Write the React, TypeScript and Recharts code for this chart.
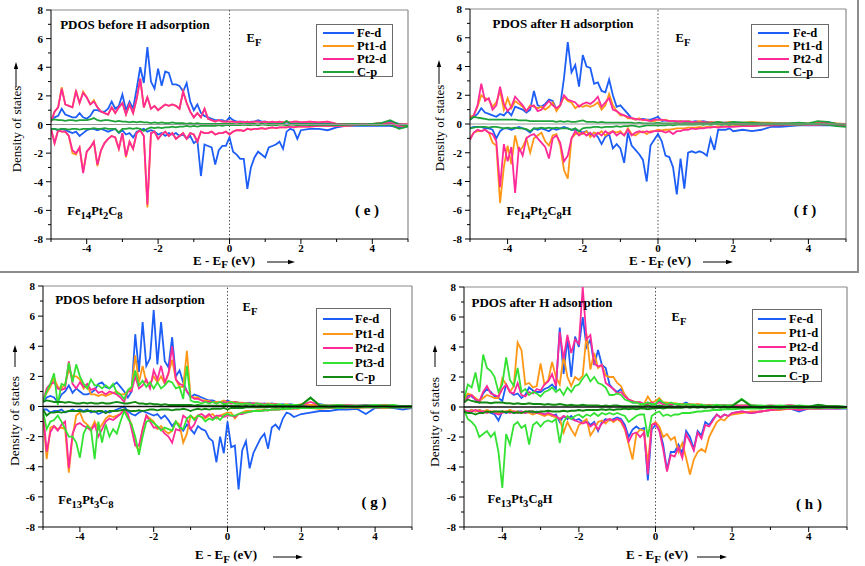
import React from 'react';
import { LineChart, Line, XAxis, YAxis, ReferenceLine } from 'recharts';

// Energy grid (eV): -5.0..2.0 step 0.1, then 2.25..5.0 step 0.25
const X = [
  -5.0, -4.9, -4.8, -4.7, -4.6, -4.5, -4.4, -4.3, -4.2, -4.1,
  -4.0, -3.9, -3.8, -3.7, -3.6, -3.5, -3.4, -3.3, -3.2, -3.1,
  -3.0, -2.9, -2.8, -2.7, -2.6, -2.5, -2.4, -2.3, -2.2, -2.1,
  -2.0, -1.9, -1.8, -1.7, -1.6, -1.5, -1.4, -1.3, -1.2, -1.1,
  -1.0, -0.9, -0.8, -0.7, -0.6, -0.5, -0.4, -0.3, -0.2, -0.1,
  0.0, 0.1, 0.2, 0.3, 0.4, 0.5, 0.6, 0.7, 0.8, 0.9,
  1.0, 1.1, 1.2, 1.3, 1.4, 1.5, 1.6, 1.7, 1.8, 1.9,
  2.0, 2.25, 2.5, 2.75, 3.0, 3.25, 3.5, 3.75, 4.0, 4.25, 4.5, 4.75, 5.0,
];

const X_TICKS = [-5, -4, -3, -2, -1, 0, 1, 2, 3, 4, 5];
const Y_TICKS = [-8, -7, -6, -5, -4, -3, -2, -1, 0, 1, 2, 3, 4, 5, 6, 7, 8];

// ---------- Panel (e) Fe14Pt2C8 ----------
const E_FE_UP = [
  0.3, 0.5, 0.6, 1.1, 0.7, 0.6, 0.5, 0.5, 0.8, 0.5,
  0.4, 0.6, 1.0, 1.0, 0.9, 0.9, 1.1, 1.6, 1.1, 1.3,
  2.1, 1.0, 1.6, 1.1, 2.5, 4.0, 2.9, 5.4, 3.0, 2.5,
  3.9, 2.7, 3.7, 3.6, 2.8, 2.8, 2.7, 2.3, 2.9, 1.6,
  1.0, 1.4, 0.8, 0.6, 0.5, 0.4, 0.3, 0.3, 0.3, 0.2,
  0.5, 0.3, 0.2, 0.2, 0.2, 0.1, 0.2, 0.2, 0.3, 0.2,
  0.2, 0.1, 0.1, 0.15, 0.1, 0.1, 0.15, 0.1, 0.1, 0.1,
  0.1, 0.1, 0.05, 0.05, 0.0, 0.0, 0.05, 0.0, 0.0, 0.1, 0.2, 0.05, 0.0,
];
const E_FE_DN = [
  -0.3, -0.3, -0.4, -0.3, -0.4, -0.5, -0.6, -0.5, -0.8, -0.6,
  -0.4, -0.3, -0.3, -0.4, -0.3, -0.4, -0.5, -0.4, -0.3, -0.6,
  -0.4, -0.7, -0.6, -0.9, -0.5, -0.4, -0.3, -0.5, -0.4, -0.5,
  -0.7, -0.6, -0.8, -0.6, -0.7, -0.6, -0.8, -0.7, -1.0, -0.8,
  -1.3, -1.1, -3.6, -1.4, -1.5, -1.6, -2.8, -1.8, -1.5, -1.5,
  -0.9, -1.9, -2.1, -2.4, -2.4, -4.5, -3.0, -2.3, -1.9, -2.1,
  -2.3, -1.6, -1.5, -1.4, -1.2, -1.7, -0.5, -0.3, -0.4, -1.0,
  -0.4, -0.3, -0.3, -0.4, -0.2, -0.1, -0.1, -0.1, -0.1, -0.1, -0.1, -0.2, -0.1,
];
const E_PT1_UP = [
  0.2, 0.9, 1.2, 2.6, 1.4, 1.3, 1.2, 2.4, 1.5, 2.3,
  1.9, 1.4, 1.7, 1.2, 0.9, 0.8, 0.7, 1.2, 0.8, 1.2,
  1.5, 0.7, 1.4, 0.8, 1.8, 3.2, 1.2, 1.9, 1.1, 1.3,
  1.0, 1.2, 1.4, 1.3, 1.4, 1.3, 1.1, 2.3, 1.5, 0.9,
  0.5, 0.8, 0.5, 1.1, 0.4, 0.3, 0.2, 0.3, 0.2, 0.2,
  0.2, 0.2, 0.15, 0.2, 0.15, 0.2, 0.15, 0.2, 0.2, 0.15,
  0.2, 0.15, 0.2, 0.15, 0.2, 0.15, 0.2, 0.15, 0.2, 0.2,
  0.15, 0.2, 0.15, 0.2, 0.05, 0.05, 0.05, 0.05, 0.05, 0.1, 0.1, 0.0, 0.0,
];
const E_PT1_DN = [
  -0.3, -1.3, -0.4, -0.5, -0.5, -0.8, -2.0, -2.1, -1.6, -3.3,
  -1.9, -1.6, -1.2, -2.9, -1.8, -1.3, -1.0, -0.8, -0.9, -1.7,
  -0.6, -2.3, -1.2, -1.7, -0.6, -0.4, -0.8, -5.8, -0.6, -0.5,
  -1.0, -0.7, -0.5, -0.8, -0.6, -1.0, -0.8, -0.6, -1.0, -0.6,
  -0.7, -1.2, -0.5, -0.6, -0.6, -0.5, -0.7, -0.6, -0.6, -0.5,
  -0.7, -0.5, -0.4, -0.4, -0.45, -0.3, -0.35, -0.3, -0.3, -0.25,
  -0.3, -0.25, -0.2, -0.25, -0.2, -0.2, -0.2, -0.15, -0.2, -0.15,
  -0.15, -0.15, -0.1, -0.1, -0.1, -0.1, -0.05, -0.05, -0.05, 0.0, 0.05, -0.1, -0.1,
];
const E_PT2_UP = [
  0.2, 0.9, 1.2, 2.5, 1.4, 1.3, 1.2, 2.3, 1.5, 2.2,
  1.9, 1.4, 1.6, 1.2, 0.9, 0.8, 0.7, 1.2, 0.8, 1.2,
  1.5, 0.7, 1.4, 0.8, 1.8, 3.2, 1.2, 1.9, 1.1, 1.3,
  1.0, 1.2, 1.4, 1.3, 1.4, 1.3, 1.1, 2.3, 1.5, 0.9,
  0.5, 0.8, 0.5, 1.1, 0.4, 0.3, 0.2, 0.3, 0.2, 0.2,
  0.2, 0.2, 0.15, 0.2, 0.15, 0.2, 0.15, 0.2, 0.2, 0.15,
  0.2, 0.15, 0.2, 0.15, 0.2, 0.15, 0.2, 0.15, 0.2, 0.2,
  0.15, 0.2, 0.15, 0.2, 0.05, 0.05, 0.05, 0.05, 0.05, 0.1, 0.1, 0.0, 0.0,
];
const E_PT2_DN = [
  -0.3, -1.3, -0.4, -0.5, -0.5, -0.8, -1.8, -2.0, -1.6, -3.4,
  -1.9, -1.6, -1.2, -2.8, -1.8, -1.3, -1.0, -0.8, -0.9, -1.7,
  -0.6, -2.2, -1.2, -1.7, -0.6, -0.4, -0.8, -5.6, -0.6, -0.5,
  -1.0, -0.7, -0.5, -0.8, -0.6, -1.0, -0.8, -0.6, -1.0, -0.6,
  -0.7, -1.2, -0.5, -0.6, -0.6, -0.5, -0.7, -0.6, -0.6, -0.5,
  -0.7, -0.5, -0.4, -0.4, -0.45, -0.3, -0.35, -0.3, -0.3, -0.25,
  -0.3, -0.25, -0.2, -0.25, -0.2, -0.2, -0.2, -0.15, -0.2, -0.15,
  -0.15, -0.15, -0.1, -0.1, -0.1, -0.1, -0.05, -0.05, -0.05, 0.0, 0.05, -0.1, -0.1,
];
const E_C_UP = [
  0.3, 0.35, 0.3, 0.3, 0.25, 0.3, 0.3, 0.25, 0.3, 0.3,
  0.3, 0.35, 0.45, 0.3, 0.25, 0.3, 0.3, 0.25, 0.2, 0.25,
  0.2, 0.2, 0.15, 0.2, 0.15, 0.2, 0.15, 0.15, 0.1, 0.15,
  0.1, 0.15, 0.1, 0.1, 0.15, 0.1, 0.1, 0.1, 0.05, 0.1,
  0.05, 0.1, 0.05, 0.05, 0.05, 0.05, 0.05, 0.05, 0.05, 0.05,
  0.05, 0.05, 0.0, 0.05, 0.0, 0.05, 0.05, 0.05, 0.0, 0.05,
  0.0, 0.05, 0.0, 0.05, 0.05, 0.05, 0.25, 0.05, 0.0, 0.05,
  0.0, 0.05, 0.0, 0.0, 0.0, 0.0, 0.05, 0.0, 0.05, 0.1, 0.3, 0.0, -0.1,
];
const E_C_DN = [
  -0.3, -0.3, -0.35, -0.3, -0.3, -0.35, -0.3, -0.3, -0.35, -0.3,
  -0.3, -0.3, -0.25, -0.3, -0.3, -0.25, -0.3, -0.3, -0.3, -0.55,
  -0.3, -0.3, -0.25, -0.3, -0.25, -0.3, -0.45, -0.3, -0.2, -0.25,
  -0.2, -0.25, -0.2, -0.2, -0.15, -0.2, -0.15, -0.15, -0.1, -0.15,
  -0.1, -0.15, -0.1, -0.1, -0.1, -0.1, -0.1, -0.05, -0.1, -0.05,
  -0.05, -0.05, -0.05, -0.05, 0.0, -0.05, -0.05, 0.0, -0.05, 0.0,
  0.0, -0.05, 0.0, -0.05, 0.0, 0.0, -0.05, 0.0, 0.0, -0.05,
  0.0, -0.05, 0.0, 0.0, -0.05, 0.0, 0.0, -0.05, 0.0, -0.05, 0.0, -0.3, -0.15,
];

// ---------- Panel (f) Fe14Pt2C8H ----------
const F_FE_UP = [
  0.3, 0.5, 0.7, 1.1, 0.8, 0.7, 0.6, 0.5, 0.7, 0.6,
  0.9, 0.6, 1.2, 1.1, 1.0, 0.8, 1.0, 2.3, 1.3, 1.2,
  1.4, 1.7, 1.6, 1.0, 1.3, 3.2, 5.7, 3.6, 4.1, 2.6,
  4.8, 4.0, 3.9, 2.8, 2.9, 2.3, 2.2, 3.1, 2.0, 1.2,
  1.3, 1.0, 0.7, 0.4, 0.3, 0.35, 0.35, 0.3, 0.3, 0.4,
  0.5, 0.2, 0.25, 0.2, 0.2, 0.15, 0.2, 0.15, 0.2, 0.15,
  0.2, 0.15, 0.2, 0.15, 0.1, 0.1, 0.1, 0.1, 0.1, 0.1,
  0.1, 0.1, 0.05, 0.05, 0.0, 0.0, 0.05, 0.05, 0.0, 0.1, 0.15, 0.0, -0.05,
];
const F_FE_DN = [
  -0.3, -0.2, -0.2, -0.2, -0.3, -0.3, -0.4, -1.0, -0.5, -0.3,
  -0.3, -0.4, -0.3, -0.2, -0.3, -0.4, -0.6, -0.3, -0.4, -0.3,
  -0.4, -0.5, -0.3, -0.4, -0.3, -0.2, -0.3, -0.4, -0.4, -0.5,
  -0.6, -0.5, -0.8, -0.6, -0.9, -1.4, -0.9, -0.7, -1.7, -1.4,
  -1.7, -2.7, -0.6, -1.5, -1.8, -2.1, -2.5, -4.0, -1.5, -1.1,
  -0.7, -1.2, -2.2, -2.3, -3.0, -4.9, -2.4, -4.5, -2.0, -1.9,
  -2.0, -1.9, -2.0, -2.2, -1.0, -1.8, -0.4, -0.4, -0.4, -0.3,
  -0.5, -0.4, -0.5, -0.4, -0.2, -0.2, -0.15, -0.1, -0.1, -0.1, -0.1, -0.1, -0.1,
];
const F_PT1_UP = [
  0.5, 0.6, 1.2, 2.0, 1.8, 1.7, 1.2, 1.5, 2.3, 1.0,
  1.8, 1.1, 1.6, 1.4, 1.2, 0.9, 1.3, 1.2, 1.1, 1.2,
  1.0, 1.2, 1.5, 0.9, 1.3, 1.9, 1.6, 1.5, 1.1, 1.3,
  1.2, 1.3, 1.2, 1.3, 1.5, 1.0, 1.3, 2.1, 1.3, 0.9,
  0.6, 0.6, 0.4, 0.4, 0.3, 0.4, 0.25, 0.3, 0.2, 0.2,
  0.3, 0.25, 0.3, 0.2, 0.2, 0.15, 0.2, 0.15, 0.2, 0.15,
  0.15, 0.2, 0.15, 0.1, 0.15, 0.1, 0.15, 0.1, 0.1, 0.15,
  0.1, 0.1, 0.15, 0.1, 0.1, 0.05, 0.05, 0.05, 0.05, 0.1, 0.1, 0.05, 0.0,
];
const F_PT1_DN = [
  -1.0, -0.6, -0.5, -0.5, -0.4, -0.6, -1.3, -1.5, -5.5, -3.0,
  -1.5, -2.8, -0.8, -1.9, -1.6, -1.0, -2.0, -1.0, -0.8, -0.6,
  -1.2, -1.5, -0.8, -0.7, -1.5, -3.2, -3.8, -1.0, -0.7, -0.6,
  -0.7, -0.5, -0.9, -0.6, -0.7, -0.5, -0.8, -0.6, -0.5, -0.6,
  -0.5, -0.8, -0.3, -0.7, -0.8, -0.6, -0.5, -0.7, -0.5, -0.5,
  -0.4, -0.45, -0.4, -0.4, -0.35, -0.3, -0.3, -0.3, -0.25, -0.25,
  -0.25, -0.2, -0.25, -0.2, -0.2, -0.2, -0.15, -0.2, -0.15, -0.15,
  -0.15, -0.1, -0.15, -0.1, -0.1, -0.05, -0.05, -0.05, -0.05, -0.05, 0.0, -0.1, -0.1,
];
const F_PT2_UP = [
  0.3, 0.6, 1.3, 2.8, 1.6, 1.8, 1.0, 1.3, 2.6, 1.4,
  0.9, 1.2, 1.9, 1.6, 1.3, 0.9, 1.2, 1.3, 0.9, 1.0,
  1.3, 1.6, 1.3, 1.1, 1.3, 2.0, 1.7, 1.6, 1.5, 1.2,
  1.4, 1.5, 1.4, 1.6, 1.9, 1.2, 1.5, 1.8, 1.0, 0.9,
  0.7, 0.6, 0.5, 0.4, 0.35, 0.3, 0.3, 0.25, 0.2, 0.3,
  0.3, 0.3, 0.25, 0.2, 0.2, 0.2, 0.15, 0.2, 0.15, 0.15,
  0.15, 0.1, 0.15, 0.1, 0.1, 0.1, 0.1, 0.05, 0.1, 0.05,
  0.05, 0.05, 0.05, 0.05, 0.0, 0.05, 0.0, 0.05, 0.0, 0.05, 0.1, 0.0, 0.0,
];
const F_PT2_DN = [
  -1.1, -0.6, -0.4, -0.5, -0.4, -0.6, -0.7, -1.2, -4.4, -1.4,
  -2.6, -1.6, -4.8, -1.6, -2.2, -1.0, -0.8, -0.7, -1.0, -1.3,
  -1.6, -2.4, -1.0, -0.8, -1.3, -2.6, -2.2, -1.0, -0.5, -0.8,
  -0.6, -0.8, -0.6, -0.9, -0.6, -0.8, -0.5, -0.7, -0.5, -0.8,
  -0.6, -0.8, -0.4, -0.8, -0.6, -0.5, -0.6, -0.5, -0.6, -0.5,
  -0.5, -0.5, -0.6, -0.5, -0.7, -0.5, -0.5, -0.4, -0.4, -0.3,
  -0.35, -0.3, -0.3, -0.25, -0.25, -0.2, -0.25, -0.2, -0.2, -0.2,
  -0.2, -0.15, -0.15, -0.1, -0.1, -0.1, -0.05, -0.05, -0.05, -0.05, 0.0, -0.1, -0.15,
];
const F_C_UP = [
  0.3, 0.5, 0.45, 0.4, 0.35, 0.3, 0.3, 0.3, 0.3, 0.3,
  0.3, 0.3, 0.3, 0.25, 0.25, 0.25, 0.2, 0.2, 0.2, 0.2,
  0.2, 0.2, 0.2, 0.15, 0.2, 0.15, 0.2, 0.15, 0.15, 0.2,
  0.25, 0.15, 0.15, 0.15, 0.1, 0.15, 0.1, 0.1, 0.1, 0.1,
  0.1, 0.1, 0.1, 0.1, 0.05, 0.1, 0.05, 0.05, 0.05, 0.05,
  0.1, 0.05, 0.05, 0.05, 0.05, 0.05, 0.0, 0.05, 0.05, 0.0,
  0.05, 0.05, 0.05, 0.05, 0.05, 0.1, 0.15, 0.1, 0.05, 0.1,
  0.15, 0.1, 0.1, 0.05, 0.05, 0.05, 0.05, 0.1, 0.05, 0.2, 0.15, 0.0, -0.05,
];
const F_C_DN = [
  -0.3, -0.25, -0.2, -0.2, -0.2, -0.25, -0.2, -0.2, -0.25, -0.3,
  -0.25, -0.3, -0.25, -0.3, -0.3, -0.35, -0.5, -0.3, -0.3, -0.25,
  -0.3, -0.25, -0.3, -0.25, -0.3, -0.3, -0.3, -0.4, -0.3, -0.5,
  -0.3, -0.25, -0.25, -0.2, -0.2, -0.25, -0.2, -0.2, -0.2, -0.15,
  -0.2, -0.15, -0.15, -0.1, -0.15, -0.2, -0.15, -0.1, -0.1, -0.1,
  -0.1, -0.1, -0.1, -0.05, -0.1, -0.05, -0.05, -0.05, -0.05, -0.05,
  -0.05, 0.0, -0.05, 0.0, -0.05, 0.0, 0.0, -0.05, 0.0, -0.05,
  0.0, -0.05, 0.0, -0.05, 0.0, -0.05, 0.0, -0.05, 0.0, 0.0, -0.05, -0.15, -0.2,
];

// ---------- Panel (g) Fe13Pt3C8 ----------
const G_FE_UP = [
  0.3, 0.6, 0.7, 0.6, 0.3, 0.8, 1.0, 1.4, 0.9, 1.2,
  1.0, 0.8, 0.8, 0.9, 1.1, 1.5, 1.6, 1.3, 1.2, 1.4,
  1.6, 1.3, 1.0, 0.6, 1.0, 4.8, 2.3, 5.6, 2.7, 3.2,
  6.4, 2.8, 5.6, 3.0, 2.6, 4.6, 2.0, 2.4, 1.6, 1.0,
  0.6, 0.8, 0.7, 0.6, 0.5, 0.4, 0.4, 0.3, 0.3, 0.3,
  0.4, 0.3, 0.3, 0.25, 0.2, 0.2, 0.25, 0.2, 0.2, 0.15,
  0.2, 0.15, 0.2, 0.15, 0.1, 0.15, 0.1, 0.15, 0.1, 0.1,
  0.1, 0.1, 0.15, 0.05, 0.1, 0.05, 0.05, 0.1, 0.05, 0.1, 0.05, 0.0, -0.05,
];
const G_FE_DN = [
  -0.2, -0.2, -0.4, -0.3, -0.3, -0.2, -0.4, -0.3, -0.2, -0.3,
  -0.2, -0.3, -0.2, -0.4, -0.3, -0.5, -0.4, -0.3, -0.4, -0.3,
  -0.2, -0.1, 0.0, -0.3, -0.5, -0.6, -0.4, -0.3, -0.4, -0.5,
  -0.6, -0.5, -0.8, -0.6, -0.9, -1.3, -1.0, -1.3, -1.6, -1.2,
  -1.5, -1.8, -1.3, -1.5, -1.6, -2.1, -2.3, -3.7, -2.0, -3.1,
  -1.0, -2.7, -2.6, -5.5, -2.9, -2.3, -4.1, -3.1, -2.6, -2.1,
  -1.8, -2.8, -1.4, -1.2, -1.5, -0.8, -0.4, -0.5, -0.7, -0.6,
  -0.5, -0.4, -0.3, -0.3, -0.2, -0.2, -0.15, -0.5, -0.1, -0.1, -0.1, -0.2, -0.1,
];
const G_PT1_UP = [
  0.4, 0.9, 1.3, 1.9, 1.3, 1.2, 1.5, 2.4, 2.0, 2.0,
  1.8, 1.2, 1.4, 0.8, 0.8, 0.7, 0.8, 0.7, 0.8, 0.9,
  1.0, 0.8, 0.8, 1.0, 1.2, 3.4, 1.6, 2.7, 1.6, 1.5,
  2.0, 1.6, 2.0, 1.5, 2.2, 3.1, 1.8, 1.3, 1.3, 3.7,
  0.6, 0.6, 0.6, 0.4, 0.4, 0.35, 0.3, 0.3, 0.3, 0.4,
  0.3, 0.3, 0.3, 0.25, 0.25, 0.2, 0.2, 0.2, 0.2, 0.15,
  0.15, 0.2, 0.15, 0.15, 0.1, 0.1, 0.15, 0.1, 0.1, 0.1,
  0.15, 0.1, 0.1, 0.05, 0.1, 0.05, 0.05, 0.05, 0.05, 0.1, 0.05, 0.0, 0.0,
];
const G_PT1_DN = [
  -0.5, -3.5, -1.4, -1.3, -1.5, -1.4, -1.5, -4.4, -2.0, -0.6,
  -0.4, -1.0, -1.2, -1.5, -1.0, -1.5, -1.2, -0.8, -0.6, -0.7,
  -0.6, -0.5, -0.2, -0.6, -1.2, -2.5, -3.0, -1.5, -0.6, -0.8,
  -1.0, -1.5, -1.3, -1.6, -1.8, -1.6, -1.0, -1.2, -2.4, -1.8,
  -0.6, -0.8, -0.6, -0.7, -0.8, -0.6, -0.5, -0.8, -0.6, -0.5,
  -0.4, -0.4, -0.8, -0.5, -0.4, -0.3, -0.3, -0.3, -0.25, -0.25,
  -0.2, -0.25, -0.2, -0.2, -0.15, -0.2, -0.15, -0.15, -0.1, -0.15,
  -0.1, -0.1, -0.15, -0.1, -0.1, -0.05, -0.1, -0.05, -0.05, -0.1, -0.05, -0.05, -0.05,
];
const G_PT2_UP = [
  0.3, 1.2, 1.5, 1.6, 1.2, 1.1, 1.2, 3.0, 1.5, 1.2,
  1.6, 1.3, 1.5, 1.1, 1.2, 0.9, 1.0, 0.8, 1.0, 0.9,
  0.8, 0.6, 0.3, 1.0, 1.0, 2.0, 1.2, 1.4, 1.8, 1.2,
  2.4, 1.8, 2.7, 1.6, 2.2, 4.0, 1.8, 1.5, 1.4, 1.0,
  0.7, 0.5, 0.5, 0.4, 0.3, 0.3, 0.3, 0.2, 0.3, 0.2,
  0.3, 0.2, 0.3, 0.2, 0.2, 0.2, 0.15, 0.2, 0.15, 0.2,
  0.15, 0.15, 0.1, 0.15, 0.1, 0.1, 0.1, 0.1, 0.1, 0.1,
  0.1, 0.3, 0.1, 0.05, 0.05, 0.1, 0.05, 0.05, 0.05, 0.05, 0.05, 0.0, 0.0,
];
const G_PT2_DN = [
  -0.4, -3.0, -1.7, -1.3, -1.6, -1.2, -1.0, -4.1, -1.8, -1.2,
  -1.1, -1.3, -1.4, -1.6, -1.2, -2.0, -1.5, -1.0, -0.8, -0.9,
  -0.7, -0.5, -0.2, -0.5, -1.5, -2.6, -2.6, -1.5, -0.6, -1.0,
  -1.4, -1.4, -1.5, -1.8, -2.0, -2.4, -1.5, -1.6, -0.6, -0.8,
  -1.5, -1.2, -0.6, -0.5, -0.7, -0.5, -0.8, -0.6, -0.6, -0.7,
  -0.6, -0.6, -0.7, -0.5, -0.5, -0.4, -0.35, -0.3, -0.3, -0.3,
  -0.25, -0.25, -0.2, -0.2, -0.2, -0.15, -0.15, -0.1, -0.15, -0.1,
  -0.1, -0.1, -0.1, -0.05, -0.1, -0.05, -0.05, -0.05, -0.05, -0.05, 0.0, -0.05, -0.05,
];
const G_PT3_UP = [
  0.3, 1.0, 1.5, 2.2, 0.1, 1.5, 1.4, 2.9, 1.6, 2.8,
  2.0, 1.5, 1.2, 1.8, 1.4, 1.4, 1.2, 1.4, 1.2, 1.5,
  0.9, 0.8, 0.5, 1.1, 1.3, 2.4, 1.4, 1.7, 1.3, 1.6,
  1.2, 1.6, 1.2, 1.4, 1.7, 1.6, 1.2, 1.3, 0.5, 2.7,
  0.4, 0.3, 0.3, 0.2, 0.3, 0.2, 0.3, 0.2, 0.3, 0.15,
  0.2, 0.3, 0.2, 0.2, 0.15, 0.2, 0.15, 0.1, 0.2, 0.15,
  0.1, 0.15, 0.1, 0.1, 0.15, 0.1, 0.1, 0.1, 0.1, 0.1,
  0.1, 0.55, 0.1, 0.05, 0.1, 0.05, 0.05, 0.05, 0.1, 0.05, 0.1, 0.0, 0.0,
];
const G_PT3_DN = [
  -0.3, -1.5, -1.0, -0.9, -0.6, -1.0, -1.5, -2.0, -2.0, -2.4,
  -3.4, -1.8, -1.3, -1.5, -3.5, -1.0, -2.4, -1.2, -2.0, -1.5,
  -1.8, -1.0, -0.3, -0.8, -1.2, -2.0, -3.2, -2.0, -1.0, -0.9,
  -1.1, -1.3, -1.6, -1.4, -1.5, -1.6, -1.0, -1.4, -1.5, -0.8,
  -0.6, -0.9, -0.6, -0.7, -1.0, -0.8, -0.9, -0.7, -0.9, -0.6,
  -0.5, -0.6, -0.6, -0.5, -0.4, -0.4, -0.35, -0.3, -0.3, -0.3,
  -0.25, -0.25, -0.2, -0.2, -0.2, -0.15, -0.15, -0.15, -0.1, -0.1,
  -0.1, -0.1, -0.1, -0.05, -0.1, -0.05, -0.05, -0.05, -0.05, -0.05, -0.05, -0.05, -0.05,
];
const G_C_UP = [
  0.3, 0.4, 0.35, 0.3, 0.3, 0.3, 0.25, 0.3, 0.25, 0.2,
  0.2, 0.25, 0.2, 0.25, 0.2, 0.2, 0.25, 0.2, 0.2, 0.25,
  0.3, 0.25, 0.2, 0.2, 0.25, 0.3, 0.2, 0.2, 0.15, 0.2,
  0.15, 0.15, 0.1, 0.15, 0.1, 0.1, 0.1, 0.1, 0.1, 0.1,
  0.1, 0.05, 0.1, 0.05, 0.05, 0.05, 0.05, 0.05, 0.05, 0.05,
  0.05, 0.05, 0.05, 0.05, 0.0, 0.05, 0.0, 0.05, 0.0, 0.05,
  0.0, 0.05, 0.0, 0.05, 0.0, 0.05, 0.0, 0.05, 0.0, 0.05,
  0.1, 0.6, 0.05, 0.0, 0.05, 0.0, 0.0, 0.05, 0.0, 0.05, 0.0, 0.0, 0.0,
];
const G_C_DN = [
  -0.2, -0.6, -0.4, -0.4, -0.35, -0.4, -0.35, -0.3, -0.3, -0.3,
  -0.3, -0.35, -0.3, -0.3, -0.35, -0.3, -0.3, -0.45, -0.3, -0.3,
  -0.3, -0.25, -0.2, -0.25, -0.3, -0.3, -0.25, -0.3, -0.25, -0.2,
  -0.2, -0.25, -0.2, -0.2, -0.2, -0.25, -0.2, -0.2, -0.15, -0.2,
  -0.3, -0.2, -0.15, -0.2, -0.15, -0.2, -0.15, -0.15, -0.15, -0.1,
  -0.2, -0.1, -0.1, -0.1, -0.1, -0.05, -0.05, -0.05, -0.05, -0.05,
  -0.05, -0.05, 0.0, -0.05, 0.0, -0.05, 0.0, -0.05, 0.0, -0.05,
  0.0, -0.05, 0.0, -0.05, 0.0, 0.0, -0.05, 0.0, 0.0, 0.0, -0.05, 0.0, 0.0,
];

// ---------- Panel (h) Fe13Pt3C8H ----------
const H_FE_UP = [
  0.3, 0.8, 0.7, 0.5, 0.3, 0.9, 1.2, 1.0, 0.7, 0.6,
  0.4, 1.5, 1.0, 0.8, 0.9, 0.6, 0.8, 1.3, 1.1, 1.0,
  1.0, 1.2, 1.3, 1.5, 1.2, 5.3, 2.2, 4.6, 2.0, 4.7,
  4.0, 6.0, 4.0, 4.5, 2.8, 3.8, 2.8, 2.6, 1.5, 1.2,
  1.0, 1.2, 0.8, 0.5, 0.3, 0.3, 0.3, 0.2, 0.3, 0.2,
  0.2, 0.4, 0.2, 0.2, 0.15, 0.2, 0.15, 0.2, 0.3, 0.15,
  0.15, 0.1, 0.15, 0.1, 0.1, 0.1, 0.1, 0.1, 0.1, 0.1,
  0.1, 0.1, 0.1, 0.05, 0.1, 0.05, 0.1, 0.05, 0.05, 0.1, 0.05, 0.0, 0.0,
];
const H_FE_DN = [
  -0.2, -0.3, -0.2, -0.3, -0.2, -0.3, -0.3, -0.4, -0.5, -0.9,
  -0.3, -0.4, -0.3, -0.4, -0.3, -0.3, -0.4, -0.3, -0.4, -0.3,
  -0.4, -0.5, -0.4, -0.6, -0.5, -1.0, -0.6, -0.8, -0.6, -0.9,
  -0.8, -1.0, -0.9, -1.2, -1.0, -1.6, -1.0, -0.8, -0.9, -0.8,
  -0.7, -0.8, -1.2, -2.0, -1.5, -1.3, -1.5, -1.4, -4.9, -1.5,
  -1.2, -1.5, -2.5, -4.2, -3.0, -3.0, -2.5, -3.1, -1.6, -2.0,
  -2.8, -1.6, -1.9, -1.0, -1.2, -0.8, -0.5, -0.7, -0.5, -0.6,
  -0.4, -0.3, -0.4, -0.3, -0.2, -0.1, -0.1, -0.3, -0.1, -0.1, -0.1, -0.1, -0.1,
];
const H_PT1_UP = [
  0.5, 0.9, 0.8, 0.6, 0.4, 0.6, 0.8, 0.7, 0.6, 0.6,
  1.9, 1.5, 1.0, 1.4, 4.3, 3.8, 1.5, 1.6, 1.3, 1.4,
  2.9, 1.5, 1.8, 3.0, 2.0, 1.5, 3.4, 2.0, 1.4, 2.0,
  1.8, 2.1, 4.9, 2.5, 3.6, 2.6, 2.8, 2.1, 2.0, 2.0,
  1.6, 1.4, 0.8, 0.5, 0.4, 0.3, 0.3, 0.2, 0.7, 0.3,
  0.4, 0.6, 0.3, 0.3, 0.2, 0.25, 0.2, 0.2, 0.15, 0.2,
  0.15, 0.2, 0.15, 0.1, 0.15, 0.1, 0.1, 0.1, 0.1, 0.1,
  0.1, 0.1, 0.1, 0.05, 0.1, 0.05, 0.1, 0.05, 0.05, 0.05, 0.05, 0.0, 0.0,
];
const H_PT1_DN = [
  -0.2, -0.3, -0.2, -0.3, -0.2, -0.3, -0.2, -0.3, -0.3, -0.4,
  -0.3, -0.3, -0.2, -0.3, -0.3, -0.4, -0.3, -0.4, -0.5, -0.4,
  -0.5, -0.6, -0.5, -0.6, -0.7, -0.8, -1.7, -1.0, -1.5, -1.9,
  -1.2, -1.0, -0.8, -1.9, -1.5, -1.0, -0.9, -1.1, -0.8, -1.0,
  -0.8, -1.0, -1.5, -2.5, -3.5, -1.8, -1.5, -1.6, -3.8, -1.2,
  -1.0, -1.3, -2.0, -1.8, -2.2, -2.0, -3.0, -2.4, -3.4, -4.5,
  -3.5, -3.0, -2.8, -3.0, -2.0, -1.5, -1.0, -0.8, -0.9, -0.6,
  -0.5, -0.4, -0.3, -0.3, -0.2, -0.2, -0.1, -0.1, -0.1, -0.1, -0.05, -0.05, -0.05,
];
const H_PT2_UP = [
  0.3, 0.6, 0.8, 0.5, 0.4, 1.0, 1.4, 0.9, 0.8, 0.7,
  1.2, 1.5, 1.0, 0.9, 1.6, 0.8, 0.7, 1.0, 0.9, 1.2,
  1.1, 1.5, 1.7, 2.2, 1.4, 5.0, 3.2, 4.8, 3.6, 4.5,
  4.2, 8.0, 4.5, 4.8, 2.9, 2.7, 2.8, 1.6, 1.4, 1.2,
  0.9, 1.0, 0.7, 0.5, 0.4, 0.3, 0.3, 0.2, 0.2, 0.3,
  0.2, 0.3, 0.2, 0.2, 0.15, 0.2, 0.15, 0.15, 0.2, 0.15,
  0.1, 0.15, 0.1, 0.1, 0.1, 0.1, 0.1, 0.1, 0.1, 0.05,
  0.1, 0.05, 0.1, 0.05, 0.05, 0.05, 0.1, 0.05, 0.05, 0.05, 0.05, 0.0, 0.0,
];
const H_PT2_DN = [
  -0.2, -0.3, -0.3, -0.2, -0.3, -0.3, -0.4, -0.3, -0.4, -0.5,
  -0.4, -0.3, -0.4, -0.3, -0.4, -0.3, -0.4, -0.3, -0.3, -0.4,
  -0.4, -0.5, -0.4, -0.5, -0.6, -0.8, -0.6, -0.7, -0.8, -0.9,
  -1.0, -1.1, -1.0, -1.3, -1.1, -1.5, -1.1, -0.9, -0.8, -0.9,
  -0.8, -0.9, -1.4, -2.3, -1.8, -1.7, -2.0, -1.7, -4.5, -1.2,
  -1.1, -1.6, -2.8, -4.3, -3.2, -3.3, -2.7, -3.4, -1.8, -2.3,
  -2.9, -1.7, -2.1, -1.2, -1.3, -0.9, -0.5, -0.7, -0.5, -0.6,
  -0.4, -0.3, -0.4, -0.3, -0.2, -0.15, -0.1, -0.2, -0.1, -0.1, -0.1, -0.1, -0.05,
];
const H_PT3_UP = [
  0.5, 1.5, 1.3, 2.3, 1.0, 3.5, 2.6, 2.4, 2.0, 1.0,
  1.5, 3.3, 1.8, 1.4, 2.6, 1.0, 1.2, 0.8, 1.0, 0.9,
  0.7, 1.0, 1.1, 1.3, 1.0, 1.2, 0.8, 1.3, 1.0, 1.4,
  1.5, 1.9, 2.2, 1.7, 2.0, 1.6, 1.5, 1.3, 0.8, 0.8,
  0.9, 0.8, 0.5, 0.4, 0.3, 0.3, 0.2, 0.2, 0.3, 0.2,
  0.2, 0.5, 0.3, 0.2, 0.3, 0.2, 0.2, 0.15, 0.2, 0.15,
  0.15, 0.1, 0.15, 0.1, 0.1, 0.1, 0.15, 0.1, 0.1, 0.1,
  0.1, 0.55, 0.1, 0.1, 0.05, 0.1, 0.05, 0.1, 0.05, 0.1, 0.05, 0.05, 0.0,
];
const H_PT3_DN = [
  -0.2, -0.8, -1.0, -1.3, -2.0, -1.8, -1.6, -2.0, -1.7, -3.0,
  -5.4, -1.8, -2.5, -1.2, -1.0, -1.4, -1.2, -2.5, -1.2, -1.0,
  -1.3, -1.0, -0.9, -1.0, -0.8, -2.4, -1.0, -0.6, -0.8, -0.6,
  -0.5, -0.7, -0.5, -0.6, -0.4, -0.6, -0.4, -0.5, -0.4, -0.5,
  -0.4, -0.5, -0.6, -1.0, -0.8, -0.6, -0.5, -0.5, -2.0, -0.6,
  -0.4, -0.3, -0.6, -0.5, -0.6, -0.5, -0.5, -0.4, -0.4, -0.4,
  -0.35, -0.3, -0.3, -0.25, -0.25, -0.2, -0.2, -0.2, -0.15, -0.15,
  -0.15, -0.1, -0.1, -0.1, -0.05, -0.1, -0.05, -0.05, -0.05, -0.05, -0.05, -0.05, -0.05,
];
const H_C_UP = [
  0.3, 0.5, 0.4, 0.35, 0.3, 0.3, 0.3, 0.25, 0.3, 0.3,
  0.3, 0.25, 0.25, 0.2, 0.25, 0.2, 0.2, 0.25, 0.2, 0.2,
  0.2, 0.15, 0.2, 0.15, 0.15, 0.2, 0.15, 0.1, 0.15, 0.1,
  0.1, 0.15, 0.1, 0.1, 0.1, 0.1, 0.05, 0.1, 0.05, 0.1,
  0.1, 0.05, 0.05, 0.05, 0.05, 0.05, 0.05, 0.05, 0.1, 0.05,
  0.05, 0.1, 0.05, 0.05, 0.05, 0.0, 0.05, 0.0, 0.05, 0.0,
  0.05, 0.0, 0.05, 0.0, 0.05, 0.0, 0.05, 0.0, 0.05, 0.0,
  0.05, 0.5, 0.05, 0.0, 0.05, 0.0, 0.05, 0.05, 0.0, 0.15, 0.05, 0.05, 0.0,
];
const H_C_DN = [
  -0.3, -0.4, -0.4, -0.5, -0.4, -0.4, -0.3, -0.35, -0.3, -0.3,
  -0.3, -0.35, -0.3, -0.4, -0.35, -0.4, -0.3, -0.3, -0.3, -0.35,
  -0.3, -0.3, -0.25, -0.3, -0.3, -0.3, -0.25, -0.3, -0.25, -0.25,
  -0.2, -0.25, -0.2, -0.2, -0.2, -0.2, -0.15, -0.2, -0.15, -0.2,
  -0.15, -0.15, -0.1, -0.15, -0.1, -0.15, -0.1, -0.1, -0.15, -0.1,
  -0.1, -0.05, -0.1, -0.05, -0.05, -0.05, -0.05, -0.05, 0.0, -0.05,
  0.0, -0.05, 0.0, -0.05, 0.0, -0.05, 0.0, -0.05, 0.0, -0.05,
  0.0, -0.05, 0.0, -0.05, 0.0, -0.05, 0.0, -0.05, 0.0, -0.05, 0.0, -0.05, 0.0,
];

// ---------- styling ----------
const COL_FE = '#1d5ef6';
const COL_PT1 = '#ff9716';
const COL_PT2 = '#ff2a98';
const COL_PT3 = '#33e233';
const COL_C_EF = '#1fa23a';
const COL_C_GH = '#138a13';
const SERIF = '"Liberation Serif", "Times New Roman", serif';

const M_TOP = 9;
const M_RIGHT = 4;
const Y_AXIS_W = 45;
const X_AXIS_H = 30;

type Series = { key: string; name: string; color: string; up: number[]; dn: number[] };

const SERIES_E: Series[] = [
  { key: 'fe', name: 'Fe-d', color: COL_FE, up: E_FE_UP, dn: E_FE_DN },
  { key: 'pt1', name: 'Pt1-d', color: COL_PT1, up: E_PT1_UP, dn: E_PT1_DN },
  { key: 'pt2', name: 'Pt2-d', color: COL_PT2, up: E_PT2_UP, dn: E_PT2_DN },
  { key: 'c', name: 'C-p', color: COL_C_EF, up: E_C_UP, dn: E_C_DN },
];
const SERIES_F: Series[] = [
  { key: 'fe', name: 'Fe-d', color: COL_FE, up: F_FE_UP, dn: F_FE_DN },
  { key: 'pt1', name: 'Pt1-d', color: COL_PT1, up: F_PT1_UP, dn: F_PT1_DN },
  { key: 'pt2', name: 'Pt2-d', color: COL_PT2, up: F_PT2_UP, dn: F_PT2_DN },
  { key: 'c', name: 'C-p', color: COL_C_EF, up: F_C_UP, dn: F_C_DN },
];
const SERIES_G: Series[] = [
  { key: 'fe', name: 'Fe-d', color: COL_FE, up: G_FE_UP, dn: G_FE_DN },
  { key: 'pt1', name: 'Pt1-d', color: COL_PT1, up: G_PT1_UP, dn: G_PT1_DN },
  { key: 'pt2', name: 'Pt2-d', color: COL_PT2, up: G_PT2_UP, dn: G_PT2_DN },
  { key: 'pt3', name: 'Pt3-d', color: COL_PT3, up: G_PT3_UP, dn: G_PT3_DN },
  { key: 'c', name: 'C-p', color: COL_C_GH, up: G_C_UP, dn: G_C_DN },
];
const SERIES_H: Series[] = [
  { key: 'fe', name: 'Fe-d', color: COL_FE, up: H_FE_UP, dn: H_FE_DN },
  { key: 'pt1', name: 'Pt1-d', color: COL_PT1, up: H_PT1_UP, dn: H_PT1_DN },
  { key: 'pt2', name: 'Pt2-d', color: COL_PT2, up: H_PT2_UP, dn: H_PT2_DN },
  { key: 'pt3', name: 'Pt3-d', color: COL_PT3, up: H_PT3_UP, dn: H_PT3_DN },
  { key: 'c', name: 'C-p', color: COL_C_GH, up: H_C_UP, dn: H_C_DN },
];

function buildRows(series: Series[]) {
  return X.map((x, i) => {
    const row: Record<string, number> = { x };
    series.forEach((s) => {
      row[s.key + 'Up'] = s.up[i];
      row[s.key + 'Dn'] = s.dn[i];
    });
    return row;
  });
}

const XTick = (props: any) => {
  const { x, y, payload } = props;
  const v = payload.value as number;
  const major = Math.abs(v) % 2 === 0;
  return (
    <g>
      <line x1={x} y1={y} x2={x} y2={y + (major ? 5 : 3)} stroke="#000" strokeWidth={1} />
      {major && (
        <text x={x} y={y + 12.5} textAnchor="middle" fontSize={11} fontWeight="bold" fontFamily={SERIF} fill="#000">
          {v}
        </text>
      )}
    </g>
  );
};

const YTick = (props: any) => {
  const { x, y, payload } = props;
  const v = payload.value as number;
  const major = Math.abs(v) % 2 === 0;
  return (
    <g>
      <line x1={x} y1={y} x2={x - (major ? 5 : 3)} y2={y} stroke="#000" strokeWidth={1} />
      {major && (
        <text x={x - 8} y={y + 4} textAnchor="end" fontSize={11} fontWeight="bold" fontFamily={SERIF} fill="#000">
          {v}
        </text>
      )}
    </g>
  );
};

type PanelProps = {
  box: [number, number, number, number];
  series: Series[];
  zeroStroke: string;
  zeroWidth: number;
};

function Panel({ box, series, zeroStroke, zeroWidth }: PanelProps) {
  const [pL, pT, pR, pB] = box;
  const rows = buildRows(series);
  return (
    <div style={{ position: 'absolute', left: pL - Y_AXIS_W, top: pT - M_TOP }}>
      <LineChart
        width={pR - pL + Y_AXIS_W + M_RIGHT}
        height={pB - pT + M_TOP + X_AXIS_H}
        data={rows}
        margin={{ top: M_TOP, right: M_RIGHT, left: 0, bottom: 0 }}
      >
        <XAxis
          type="number"
          dataKey="x"
          domain={[-5, 5]}
          ticks={X_TICKS}
          interval={0}
          tickSize={0}
          tickMargin={0}
          tickLine={false}
          tick={(p: any) => <XTick {...p} />}
          axisLine={{ stroke: '#000', strokeWidth: 1 }}
          height={X_AXIS_H}
          allowDataOverflow
        />
        <YAxis
          type="number"
          domain={[-8, 8]}
          ticks={Y_TICKS}
          interval={0}
          tickSize={0}
          tickMargin={0}
          tickLine={false}
          tick={(p: any) => <YTick {...p} />}
          axisLine={{ stroke: '#000', strokeWidth: 1 }}
          width={Y_AXIS_W}
          allowDataOverflow
        />
        <ReferenceLine y={8} stroke="#8a8a8a" strokeWidth={1.2} />
        <ReferenceLine x={5} stroke="#8a8a8a" strokeWidth={1.2} />
        <ReferenceLine x={0} stroke="#555" strokeDasharray="1.5 2" strokeWidth={1} />
        {series.flatMap((s) => [
          <Line
            key={s.key + 'Up'}
            dataKey={s.key + 'Up'}
            stroke={s.color}
            strokeWidth={1.8}
            dot={false}
            type="linear"
            isAnimationActive={false}
          />,
          <Line
            key={s.key + 'Dn'}
            dataKey={s.key + 'Dn'}
            stroke={s.color}
            strokeWidth={1.8}
            dot={false}
            type="linear"
            isAnimationActive={false}
          />,
        ])}
        <ReferenceLine y={0} stroke={zeroStroke} strokeWidth={zeroWidth} />
      </LineChart>
    </div>
  );
}

function T({
  x,
  y,
  size = 12,
  bold = true,
  rot = 0,
  children,
}: {
  x: number;
  y: number;
  size?: number;
  bold?: boolean;
  rot?: number;
  children: React.ReactNode;
}) {
  return (
    <div
      style={{
        position: 'absolute',
        left: x,
        top: y,
        transform: `translate(-50%, -50%) rotate(${rot}deg)`,
        fontFamily: SERIF,
        fontSize: size,
        fontWeight: bold ? 'bold' : 'normal',
        whiteSpace: 'nowrap',
        lineHeight: 1,
        color: '#000',
      }}
    >
      {children}
    </div>
  );
}

const Sub = ({ children }: { children: React.ReactNode }) => (
  <span style={{ fontSize: '0.85em', position: 'relative', top: '0.35em' }}>{children}</span>
);

function HArrow({ x1, x2, y }: { x1: number; x2: number; y: number }) {
  const w = x2 - x1;
  return (
    <svg style={{ position: 'absolute', left: x1, top: y - 4 }} width={w + 1} height={8}>
      <line x1={0} y1={4} x2={w - 5} y2={4} stroke="#000" strokeWidth={1} />
      <polygon points={`${w - 7},1.8 ${w},4 ${w - 7},6.2`} fill="#000" />
    </svg>
  );
}

function VArrow({ x, yBottom, yTop }: { x: number; yBottom: number; yTop: number }) {
  const h = yBottom - yTop;
  return (
    <svg style={{ position: 'absolute', left: x - 4, top: yTop }} width={8} height={h + 1}>
      <line x1={4} y1={h} x2={4} y2={5} stroke="#000" strokeWidth={1} />
      <polygon points={`1.8,7 4,0 6.2,7`} fill="#000" />
    </svg>
  );
}

function LegendBox({
  left,
  top,
  w,
  h,
  lx1,
  lx2,
  tx,
  rowsY,
  series,
}: {
  left: number;
  top: number;
  w: number;
  h: number;
  lx1: number;
  lx2: number;
  tx: number;
  rowsY: number[];
  series: Series[];
}) {
  return (
    <div
      style={{
        position: 'absolute',
        left,
        top,
        width: w,
        height: h,
        border: '1px solid #6a6a6a',
        background: '#fff',
        boxSizing: 'border-box',
      }}
    >
      {series.map((s, i) => (
        <React.Fragment key={s.key}>
          <div
            style={{
              position: 'absolute',
              left: lx1,
              top: rowsY[i] - 1,
              width: lx2 - lx1,
              height: 2,
              background: s.color,
            }}
          />
          <div
            style={{
              position: 'absolute',
              left: tx,
              top: rowsY[i],
              transform: 'translateY(-50%)',
              fontFamily: SERIF,
              fontWeight: 'bold',
              fontSize: 12.5,
              lineHeight: 1,
              whiteSpace: 'nowrap',
            }}
          >
            {s.name}
          </div>
        </React.Fragment>
      ))}
    </div>
  );
}

export default function App() {
  return (
    <div
      style={{
        position: 'absolute',
        left: 0,
        top: 0,
        width: 865,
        height: 566,
        background: '#fff',
        overflow: 'hidden',
      }}
    >
      {/* frame of the upper row */}
      <div style={{ position: 'absolute', left: 0, top: 271, width: 858, height: 2, background: '#8c8c8c' }} />
      <div style={{ position: 'absolute', left: 857, top: 0, width: 2, height: 273, background: '#8c8c8c' }} />

      <Panel box={[51, 10, 408, 239]} series={SERIES_E} zeroStroke="#9a9a9a" zeroWidth={1} />
      <Panel box={[470, 9, 846, 239]} series={SERIES_F} zeroStroke="#9a9a9a" zeroWidth={1} />
      <Panel box={[43, 286, 412, 527]} series={SERIES_G} zeroStroke="#111" zeroWidth={1.5} />
      <Panel box={[464, 287, 847, 527]} series={SERIES_H} zeroStroke="#111" zeroWidth={1.5} />

      {/* panel e annotations */}
      <T x={135} y={23.5} size={13}>PDOS before H adsorption</T>
      <T x={254} y={38} size={12.5}>E<Sub>F</Sub></T>
      <T x={95} y={211} size={12.5}>Fe<Sub>14</Sub>Pt<Sub>2</Sub>C<Sub>8</Sub></T>
      <T x={367} y={210} size={15}>(&nbsp;e&nbsp;)</T>
      <T x={16} y={129} size={13} bold={false} rot={-90}>Density of states</T>
      <VArrow x={16} yBottom={87} yTop={62} />
      <T x={224} y={260.5} size={13}>E - E<Sub>F</Sub> (eV)</T>
      <HArrow x1={267} x2={295} y={262} />
      <LegendBox left={316} top={24} w={77} h={53} lx1={6} lx2={37} tx={40} rowsY={[7.5, 20.5, 33.5, 46.5]} series={SERIES_E} />

      {/* panel f annotations */}
      <T x={563} y={22.5} size={13}>PDOS after H adsorption</T>
      <T x={683} y={38} size={12.5}>E<Sub>F</Sub></T>
      <T x={539} y={211} size={12.5}>Fe<Sub>14</Sub>Pt<Sub>2</Sub>C<Sub>8</Sub>H</T>
      <T x={805} y={210} size={15}>(&nbsp;f&nbsp;)</T>
      <T x={439} y={128} size={13} bold={false} rot={-90}>Density of states</T>
      <VArrow x={439} yBottom={84} yTop={60} />
      <T x={660} y={260.5} size={13}>E - E<Sub>F</Sub> (eV)</T>
      <HArrow x1={703} x2={733} y={262} />
      <LegendBox left={751} top={24} w={78} h={54} lx1={6} lx2={37} tx={41} rowsY={[7.5, 20.5, 33.5, 46.5]} series={SERIES_F} />

      {/* panel g annotations */}
      <T x={130} y={299} size={13}>PDOS before H adsorption</T>
      <T x={250} y={307} size={12.5}>E<Sub>F</Sub></T>
      <T x={86} y={500} size={12.5}>Fe<Sub>13</Sub>Pt<Sub>3</Sub>C<Sub>8</Sub></T>
      <T x={374} y={502} size={15}>(&nbsp;g&nbsp;)</T>
      <T x={15} y={421} size={13.5} bold={false} rot={-90}>Density of states</T>
      <VArrow x={15} yBottom={367} yTop={345} />
      <T x={226} y={555} size={13}>E - E<Sub>F</Sub> (eV)</T>
      <HArrow x1={273} x2={303} y={557} />
      <LegendBox left={316} top={308} w={75} h={78} lx1={6} lx2={36} tx={38} rowsY={[10, 24.5, 39, 53.5, 68]} series={SERIES_G} />

      {/* panel h annotations */}
      <T x={542} y={302} size={13}>PDOS after H adsorption</T>
      <T x={679} y={317} size={12.5}>E<Sub>F</Sub></T>
      <T x={520} y={499} size={12.5}>Fe<Sub>13</Sub>Pt<Sub>3</Sub>C<Sub>8</Sub>H</T>
      <T x={809} y={504} size={15}>(&nbsp;h&nbsp;)</T>
      <T x={435} y={422} size={13.5} bold={false} rot={-90}>Density of states</T>
      <VArrow x={435} yBottom={367} yTop={345} />
      <T x={657} y={555} size={13}>E - E<Sub>F</Sub> (eV)</T>
      <HArrow x1={697} x2={727} y={557} />
      <LegendBox left={752} top={309} w={70} h={73} lx1={5} lx2={33} tx={36} rowsY={[9, 23, 37, 51, 65.5]} series={SERIES_H} />
    </div>
  );
}
